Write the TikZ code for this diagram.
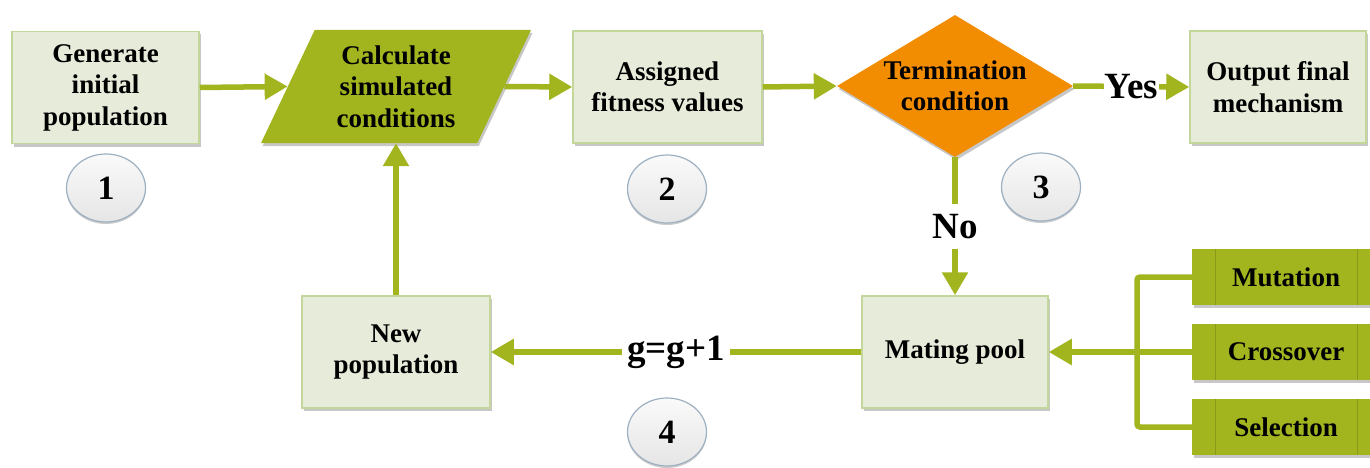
\documentclass[tikz,border=0pt]{standalone}
\usepackage{fontspec}
\setmainfont{Liberation Serif}
\usetikzlibrary{arrows.meta,shapes.geometric,shadows}

\definecolor{boxfill}{HTML}{E7EBDA}
\definecolor{boxline}{HTML}{C4D79B}
\definecolor{olive}{HTML}{A2B51F}
\definecolor{olivedark}{HTML}{8A9A18}
\definecolor{orng}{HTML}{F28C00}
\definecolor{circline}{HTML}{9DB0C2}

\begin{document}
\begin{tikzpicture}[x=1pt,y=-1pt,
  font=\rmfamily\bfseries\fontsize{27}{31.5}\selectfont,
  shad/.style={drop shadow={shadow xshift=1.5pt,shadow yshift=-3pt,opacity=0.22,fill=black}},
  pbox/.style={rectangle, fill=boxfill, draw=boxline, line width=1.5pt,
    minimum width=#1, minimum height=112pt, align=center, inner sep=0pt, shad},
  gbox/.style={rectangle, fill=olive, draw=none, minimum width=188pt,
    minimum height=56pt, inner sep=0pt, shad,
    path picture={
      \draw[olivedark, line width=0.6pt]
        ([xshift=23pt]path picture bounding box.north west) --
        ([xshift=23pt]path picture bounding box.south west);
      \draw[olivedark, line width=0.6pt]
        ([xshift=165pt]path picture bounding box.north west) --
        ([xshift=165pt]path picture bounding box.south west);}},
  numc/.style={ellipse, draw=circline, line width=1.2pt, top color=gray!4,
    bottom color=gray!20, minimum width=79pt, minimum height=68pt,
    inner sep=0pt, font=\rmfamily\bfseries\fontsize{34}{34}\selectfont,
    drop shadow={shadow xshift=0pt,shadow yshift=-2pt,opacity=0.2,fill=black}},
  arr/.style={draw=olive, line width=5.5pt, -{Triangle[length=23pt,width=25pt]}},
  conn/.style={draw=olive, line width=5.5pt},
  lbl/.style={fill=white, text=black, inner xsep=1pt, inner ysep=6pt,
    font=\rmfamily\bfseries\fontsize{37}{37}\selectfont}
]
\useasboundingbox (0,0) rectangle (1370,468);
\clip (0,0) rectangle (1370,468);

% top row
\node[pbox=187pt] (gen) at (105.5,87.5) {Generate\\initial\\population};
\node[trapezium, trapezium left angle=64.5, trapezium right angle=115.5,
  trapezium stretches=true, minimum width=270pt, minimum height=113pt,
  fill=olive, inner sep=0pt, align=center, shad] (calc) at (396,86.5)
  {Calculate\\simulated\\conditions};
\node[pbox=189pt] (fit) at (667.5,87) {Assigned\\fitness values};
\node[diamond, fill=orng, minimum width=236pt, minimum height=142pt,
  inner sep=0pt, shad] (term) at (955,86) {};
\node[align=center] (termtext) at (term.center) {Termination\\condition};
\node[pbox=176pt] (out) at (1278,87) {Output final\\mechanism};

% bottom row
\node[pbox=188pt] (newpop) at (396,352) {New\\population};
\node[pbox=186pt] (mate) at (955,352) {Mating pool};
\node[gbox] (mut) at (1286,277) {Mutation};
\node[gbox] (cross) at (1286,352) {Crossover};
\node[gbox] (sel) at (1286,427) {Selection};

% numbered circles
\node[numc] (c1) at (106,188) {1};
\node[numc] (c2) at (667,189) {2};
\node[numc] (c3) at (1041,187) {3};
\node[numc] (c4) at (667,432) {4};

% connectors
\draw[arr] (gen.east) -- (calc.west);
\draw[arr] (calc.east) -- (fit.west);
\draw[arr] (fit.east) -- (term.west);
\draw[arr] (term.east) -- node[lbl] {Yes} (out.west);
\draw[arr] (term.south) -- node[lbl, inner ysep=10pt] {No} (mate.north);
\draw[arr] (mate.west) -- node[lbl, inner xsep=5pt] {g=g+1} (newpop.east);
\draw[arr] (newpop.north) -- (newpop.north |- calc.south);
\coordinate (bx) at (1137,352);
\draw[conn, rounded corners=3pt] (mut.west) -| (bx) |- (sel.west);
\draw[arr] (cross.west) -- (mate.east);
\end{tikzpicture}
\end{document}
